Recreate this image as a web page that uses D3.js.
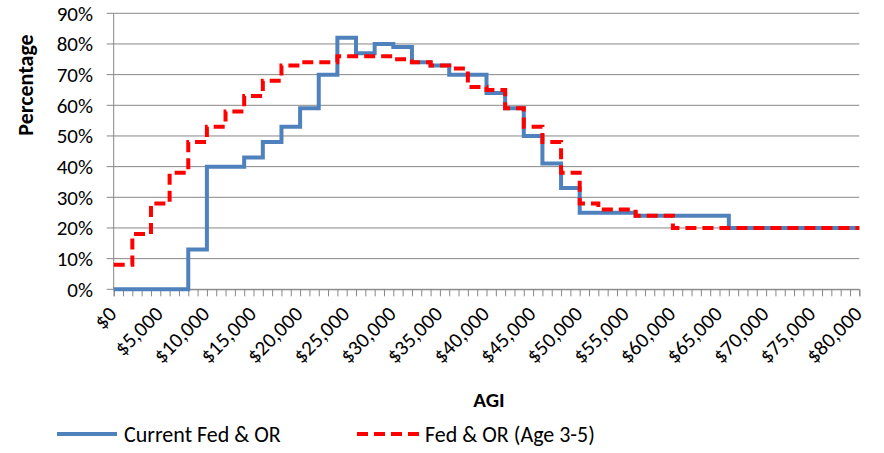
<!DOCTYPE html>
<html>
<head>
<meta charset="utf-8">
<script src="https://cdn.jsdelivr.net/npm/d3@7"></script>
<style>
  body { margin: 0; background: #fff; }
  svg text { font-family: Carlito, Lato, sans-serif; fill: #000; }
</style>
</head>
<body>
<div id="chart"></div>
<script>
// step starts (AGI $) and percent values for each series
const currentAgi = [0, 8000, 10000, 14000, 16000, 18000, 20000, 22000, 24000, 26000, 28000, 30000, 32000, 34000, 36000, 40000, 42000, 44000, 46000, 48000, 50000, 56000, 66000, 80000];
const currentPct = [0, 13, 40, 43, 48, 53, 59, 70, 82, 77, 80, 79, 74, 73, 70, 64, 59, 50, 41, 33, 25, 24, 20, 20];

const age35Agi = [0, 2000, 4000, 6000, 8000, 10000, 12000, 14000, 16000, 18000, 20000, 24000, 30000, 32000, 34000, 36000, 38000, 40000, 42000, 44000, 46000, 48000, 50000, 52000, 56000, 60000, 80000];
const age35Pct = [8, 18, 28, 38, 48, 53, 58, 63, 68, 73, 74, 76, 75, 74, 73, 72, 66, 65, 59, 53, 48, 38, 28, 26, 24, 20, 20];

const seriesNames = ["Current Fed & OR", "Fed & OR (Age 3-5)"];
const xTickLabels = ["$0", "$5,000", "$10,000", "$15,000", "$20,000", "$25,000", "$30,000", "$35,000", "$40,000",
  "$45,000", "$50,000", "$55,000", "$60,000", "$65,000", "$70,000", "$75,000", "$80,000"];
const yTicks = [0, 10, 20, 30, 40, 50, 60, 70, 80, 90];

const width = 884, height = 453;
const plotLeft = 113.7, plotRight = 859.3, plotTop = 13.3, plotBottom = 289.3;

const svg = d3.select("#chart").append("svg")
  .attr("width", width)
  .attr("height", height);

const x = d3.scaleLinear().domain([0, 80000]).range([plotLeft, plotRight]);
const y = d3.scaleLinear().domain([0, 90]).range([plotBottom, plotTop]);

// gridlines
svg.append("g")
  .selectAll("line")
  .data(yTicks)
  .enter()
  .append("line")
    .attr("x1", plotLeft - 7)
    .attr("x2", plotRight)
    .attr("y1", d => y(d))
    .attr("y2", d => y(d))
    .attr("stroke", "#878787")
    .attr("stroke-width", 1);

// y axis line
svg.append("line")
  .attr("x1", plotLeft).attr("x2", plotLeft)
  .attr("y1", plotTop).attr("y2", plotBottom)
  .attr("stroke", "#878787");

// y labels
svg.append("g")
  .selectAll("text")
  .data(yTicks)
  .enter()
  .append("text")
    .attr("x", 93)
    .attr("y", d => y(d))
    .attr("dy", "0.35em")
    .attr("text-anchor", "end")
    .attr("font-size", 21)
    .text(d => d + "%");

// x axis with minor ticks every $1,000
const xAxis = d3.axisBottom(x)
  .tickValues(d3.range(0, 80001, 1000))
  .tickSize(7)
  .tickFormat("");
const gx = svg.append("g")
  .attr("transform", `translate(0,${plotBottom})`)
  .call(xAxis);
gx.select(".domain").attr("stroke", "#878787").attr("stroke-width", 1);
gx.selectAll(".tick line").attr("stroke", "#878787");

// rotated x labels
svg.append("g")
  .selectAll("text")
  .data(xTickLabels)
  .enter()
  .append("text")
    .attr("transform", (d, i) => `translate(${x(i * 5000) + 4},${plotBottom + 26}) rotate(-45)`)
    .attr("text-anchor", "end")
    .attr("font-size", 21)
    .text(d => d);

// step lines
const line = d3.line()
  .x(d => x(d[0]))
  .y(d => y(d[1]))
  .curve(d3.curveStepAfter);

svg.append("path")
  .datum(d3.zip(currentAgi, currentPct))
  .attr("d", line)
  .attr("fill", "none")
  .attr("stroke", "#4F81BD")
  .attr("stroke-width", 4);

svg.append("path")
  .datum(d3.zip(age35Agi, age35Pct))
  .attr("d", line)
  .attr("fill", "none")
  .attr("stroke", "#FF0000")
  .attr("stroke-width", 4)
  .attr("stroke-dasharray", "11,6");

// axis titles
svg.append("text")
  .attr("x", 489)
  .attr("y", 407)
  .attr("text-anchor", "middle")
  .attr("font-size", 21)
  .attr("font-weight", "bold")
  .text("AGI");

svg.append("text")
  .attr("transform", "translate(33,85) rotate(-90)")
  .attr("text-anchor", "middle")
  .attr("font-size", 22)
  .attr("font-weight", "bold")
  .text("Percentage");

// legend
const legend = svg.append("g");
legend.append("line")
  .attr("x1", 57).attr("x2", 117).attr("y1", 434).attr("y2", 434)
  .attr("stroke", "#4F81BD").attr("stroke-width", 4);
legend.append("text")
  .attr("x", 124).attr("y", 434).attr("dy", "0.35em")
  .attr("font-size", 22)
  .text(seriesNames[0]);
legend.append("line")
  .attr("x1", 357).attr("x2", 419).attr("y1", 434).attr("y2", 434)
  .attr("stroke", "#FF0000").attr("stroke-width", 4)
  .attr("stroke-dasharray", "11,6");
legend.append("text")
  .attr("x", 425).attr("y", 434).attr("dy", "0.35em")
  .attr("font-size", 22)
  .text(seriesNames[1]);
</script>
</body>
</html>
